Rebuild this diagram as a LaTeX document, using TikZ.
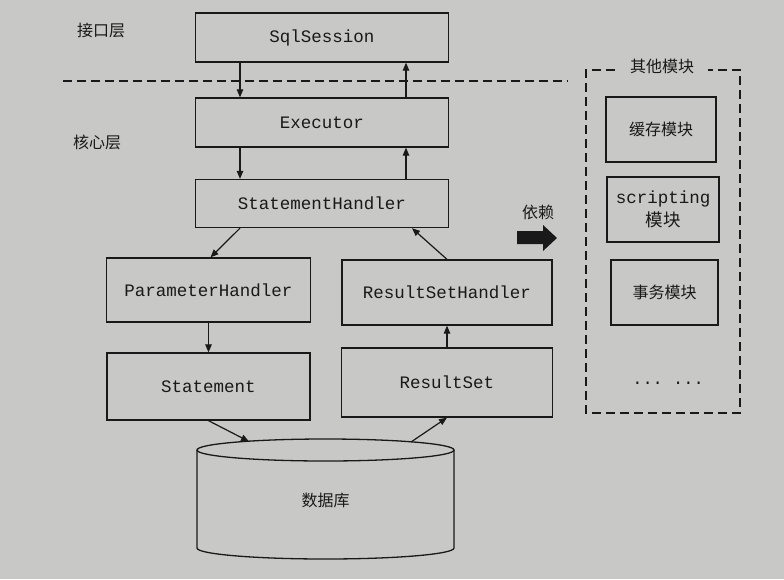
\documentclass[tikz,border=0pt]{standalone}
\usepackage{fontspec}
\setmonofont{Liberation Mono}
\newfontfamily\cjk{Noto Sans CJK SC}
\usetikzlibrary{arrows.meta,calc}
\definecolor{paper}{RGB}{200,200,198}
\definecolor{ink}{RGB}{25,25,25}
\begin{document}
\begin{tikzpicture}[x=1pt,y=-1pt,
  box/.style={draw=ink, line width=1.3pt, inner sep=0pt, text=ink,
    font=\ttfamily\fontsize{17.5}{23}\selectfont},
  cbox/.style={box, font=\cjk\fontsize{16}{20}\selectfont},
  arr/.style={draw=ink, line width=1.2pt, -{Triangle[length=8pt,width=6.5pt]}},
  lbl/.style={font=\cjk\fontsize{16}{20}\selectfont, text=ink, inner sep=0pt},
  dashline/.style={draw=ink, line width=1.3pt, dash pattern=on 9pt off 5pt},
  edge/.style={draw=ink, line width=1.3pt}
]
\fill[paper] (0,0) rectangle (784,579);
\useasboundingbox (0,0) rectangle (784,579);

% layer labels
\node[lbl] (ifl) at (101,30) {接口层};
\node[lbl] (core) at (97,142) {核心层};
\draw[dashline] (63,81) -- (568,81);

% main boxes
\node[box, minimum width=253pt, minimum height=49pt] (ss) at (322,37.5) {SqlSession};
\node[box, minimum width=253pt, minimum height=49pt] (ex) at (322,122.5) {Executor};
\node[box, minimum width=253pt, minimum height=48pt] (sh) at (322,203.5) {StatementHandler};
\node[box, minimum width=204pt, minimum height=64pt] (ph) at (208.5,290) {ParameterHandler};
\node[box, minimum width=210pt, minimum height=65pt] (rsh) at (447,292.5) {ResultSetHandler};
\node[box, minimum width=203pt, minimum height=67pt] (st) at (208.5,386.5) {Statement};
\node[box, minimum width=211pt, minimum height=69pt] (rs) at (447,382.5) {ResultSet};

% database cylinder
\node[lbl, minimum width=257pt, minimum height=110pt] (db) at (325.5,500) {数据库};
\draw[edge] (325.5,450) ellipse [x radius=128.5pt, y radius=11pt];
\draw[edge] (197,450) -- (197,548) arc[start angle=180, end angle=360, x radius=128.5pt, y radius=11pt] -- (454,450);
\coordinate (dbin) at (249,441.5);
\coordinate (dbout) at (411,442);

% connectors
\draw[arr] ($(ss.south)+(-82,0)$) -- ($(ex.north)+(-82,0)$);
\draw[arr] ($(ex.north)+(84,0)$) -- ($(ss.south)+(84,0)$);
\draw[arr] ($(ex.south)+(-82,0)$) -- ($(sh.north)+(-82,0)$);
\draw[arr] ($(sh.north)+(84,0)$) -- ($(ex.south)+(84,0)$);
\draw[arr] ($(sh.south)+(-82,0)$) -- ($(ph.north)+(2,0)$);
\draw[arr] (rsh.north) -- ($(sh.south)+(90,0)$);
\draw[arr] (ph.south) -- (st.north);
\draw[arr] (rs.north) -- (rsh.south);
\draw[arr] (st.south) -- (dbin);
\draw[arr] (dbout) -- (rs.south);

% dependency arrow
\node[lbl] (dep) at (538,212) {依赖};
\fill[ink] (517,231) -- (543,231) -- (543,225) -- (557,238) -- (543,251) -- (543,244) -- (517,244) -- cycle;

% other modules
\node[lbl] (other) at (662,66) {其他模块};
\draw[draw=ink, line width=1.1pt, dash pattern=on 9pt off 5pt]
  (615,70) -- (586,70) -- (586,413) -- (740,413) -- (740,70) -- (708,70);
\node[cbox, minimum width=110pt, minimum height=65pt] (cache) at (661,129.5) {缓存模块};
\node[box, minimum width=112pt, minimum height=65pt, align=center] (script) at (663,209.5) {scripting\\{\cjk 模块}};
\node[cbox, minimum width=107pt, minimum height=65pt] (tx) at (664.5,292.5) {事务模块};
\node[lbl, font=\ttfamily\fontsize{17}{20}\selectfont] (more) at (668,383) {... ...};
\end{tikzpicture}
\end{document}
